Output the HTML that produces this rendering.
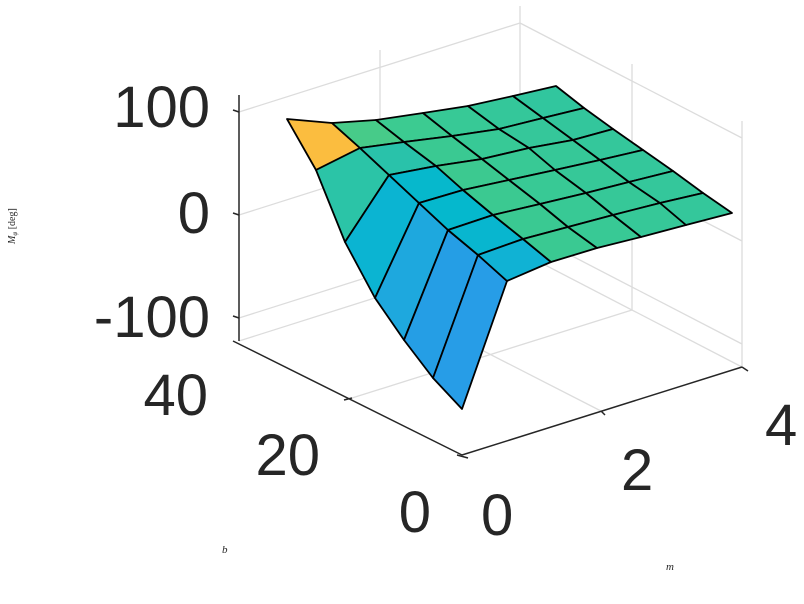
<!DOCTYPE html>
<html><head><meta charset="utf-8"><style>
html,body{margin:0;padding:0;background:#fff;}
svg{display:block;}
text{font-family:"Liberation Sans",sans-serif;fill:#262626;}
text.s{font-family:"Liberation Serif",serif;font-style:italic;}
</style></head><body>
<svg width="804" height="604" viewBox="0 0 804 604" xmlns="http://www.w3.org/2000/svg">
<g stroke="#dcdcdc" stroke-width="1.3" fill="none">
<line x1="239" y1="318" x2="520" y2="229"/>
<line x1="239" y1="215" x2="520" y2="126"/>
<line x1="239" y1="112" x2="520" y2="23"/>
<line x1="380" y1="296" x2="380" y2="50"/>
<line x1="520" y1="252" x2="520" y2="6"/>
<line x1="520" y1="229" x2="742" y2="344"/>
<line x1="520" y1="126" x2="742" y2="241"/>
<line x1="520" y1="23" x2="742" y2="138"/>
<line x1="632" y1="310" x2="632" y2="64"/>
<line x1="742" y1="367" x2="742" y2="121"/>
<line x1="239" y1="341" x2="520" y2="252"/>
<line x1="520" y1="252" x2="742" y2="367"/>
<line x1="601" y1="411" x2="378" y2="297"/>
<line x1="352" y1="398" x2="632" y2="310"/>
</g>
<g stroke="#000" stroke-width="1.8" stroke-linejoin="round">
<polygon fill="#fbbd3f" points="287,119 332,123 360,148 316,170"/>
<polygon fill="#47cb89" points="332,123 376,120 404,142 360,148"/>
<polygon fill="#3ccb91" points="376,120 423,113 452,136 404,142"/>
<polygon fill="#37c996" points="423,113 468,106 499,129 452,136"/>
<polygon fill="#34c79a" points="468,106 513,96 543,118 499,129"/>
<polygon fill="#31c69e" points="513,96 556,86 584,108 543,118"/>
<polygon fill="#2bc4a7" points="316,170 360,148 389,175 345,242"/>
<polygon fill="#29c2aa" points="360,148 404,142 436,166 389,175"/>
<polygon fill="#3ac992" points="404,142 452,136 482,159 436,166"/>
<polygon fill="#37c996" points="452,136 499,129 529,148 482,159"/>
<polygon fill="#35c79a" points="499,129 543,118 573,140 529,148"/>
<polygon fill="#33c69c" points="543,118 584,108 613,129 573,140"/>
<polygon fill="#0bb4d2" points="345,242 389,175 419,203 375,298"/>
<polygon fill="#06b8cc" points="389,175 436,166 463,190 419,203"/>
<polygon fill="#3cc990" points="436,166 482,159 509,180 463,190"/>
<polygon fill="#38c995" points="482,159 529,148 555,170 509,180"/>
<polygon fill="#36c898" points="529,148 573,140 600,160 555,170"/>
<polygon fill="#34c79b" points="573,140 613,129 643,150 600,160"/>
<polygon fill="#1ea8de" points="375,298 419,203 448,230 404,340"/>
<polygon fill="#05b8cd" points="419,203 463,190 493,215 448,230"/>
<polygon fill="#3bc991" points="463,190 509,180 540,204 493,215"/>
<polygon fill="#38c995" points="509,180 555,170 586,193 540,204"/>
<polygon fill="#36c898" points="555,170 600,160 629,182 586,193"/>
<polygon fill="#34c79b" points="600,160 643,150 673,171 629,182"/>
<polygon fill="#259ee5" points="404,340 448,230 478,255 433,378"/>
<polygon fill="#08b6cf" points="448,230 493,215 523,239 478,255"/>
<polygon fill="#3ac992" points="493,215 540,204 568,227 523,239"/>
<polygon fill="#38c995" points="540,204 586,193 613,215 568,227"/>
<polygon fill="#36c898" points="586,193 629,182 660,203 613,215"/>
<polygon fill="#34c79b" points="629,182 673,171 703,193 660,203"/>
<polygon fill="#279de7" points="433,378 478,255 507,281 462,409"/>
<polygon fill="#10b2d4" points="478,255 523,239 551,262 507,281"/>
<polygon fill="#3ac992" points="523,239 568,227 597,248 551,262"/>
<polygon fill="#38c995" points="568,227 613,215 641,237 597,248"/>
<polygon fill="#36c898" points="613,215 660,203 686,225 641,237"/>
<polygon fill="#34c79b" points="660,203 703,193 732,213 686,225"/>
</g>
<g stroke="#262626" stroke-width="1.5" fill="none">
<line x1="239" y1="95" x2="239" y2="341"/>
<line x1="239" y1="112" x2="233" y2="110"/>
<line x1="239" y1="215" x2="233" y2="213"/>
<line x1="239" y1="318" x2="233" y2="316"/>
<line x1="233" y1="341" x2="462" y2="455"/>
<line x1="462" y1="455" x2="742" y2="367"/>
<line x1="742" y1="367" x2="748" y2="371"/>
<line x1="457" y1="455" x2="468" y2="458"/>
<line x1="352" y1="398" x2="344" y2="400"/>
<line x1="601" y1="411" x2="605" y2="415"/>
</g>
<g font-size="58">
<text x="210" y="127" text-anchor="end">100</text>
<text x="210" y="233" text-anchor="end">0</text>
<text x="210" y="337" text-anchor="end">-100</text>
<text x="208" y="415" text-anchor="end">40</text>
<text x="320" y="475" text-anchor="end">20</text>
<text x="431" y="532" text-anchor="end">0</text>
<text x="481" y="535">0</text>
<text x="621" y="490">2</text>
<text x="765" y="445">4</text>
</g>
<text class="s" x="222" y="553" font-size="11">b</text>
<text class="s" x="666" y="570" font-size="11">m</text>
<text transform="translate(15,244) rotate(-90)" font-size="10" style="font-family:'Liberation Serif',serif"><tspan font-style="italic">M</tspan><tspan font-size="7" dy="2" font-style="italic">φ</tspan><tspan dy="-2"> [deg]</tspan></text>
</svg>
</body></html>
